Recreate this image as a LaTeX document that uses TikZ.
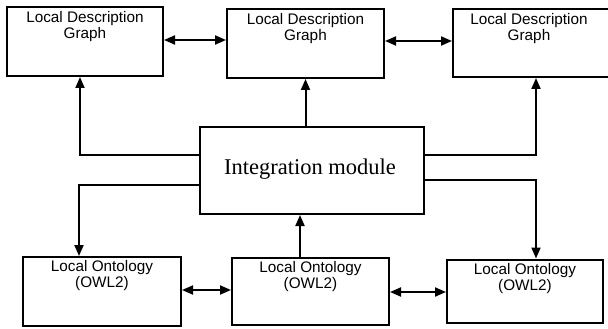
\documentclass[tikz,border=0pt]{standalone}
\usepackage{fontspec}
\setmainfont{Liberation Serif}
\setsansfont{Liberation Sans}
\usetikzlibrary{arrows.meta}
\begin{document}
\begin{tikzpicture}[x=1pt,y=-1pt,
  box/.style={draw,line width=2pt,inner sep=0,minimum width=#1},
  lbl/.style={anchor=north,inner sep=0,align=center,font=\sffamily\fontsize{15.3}{15.8}\selectfont},
  conn/.style={line width=2pt,-{Triangle[length=11pt,width=9pt]}},
  dconn/.style={line width=2pt,{Triangle[length=11pt,width=9pt]}-{Triangle[length=11pt,width=9pt]}}
]
\useasboundingbox[fill=white] (0,0) rectangle (608,329);
% boxes
\node[box=156pt,minimum height=69pt] (TL) at (85,41.5) {};
\node[box=157pt,minimum height=69pt] (TM) at (305.5,43.5) {};
\node[box=156pt,minimum height=68pt] (TR) at (531,43) {};
\node[box=224pt,minimum height=87pt] (IM) at (312,170.5) {};
\node[box=158pt,minimum height=69pt] (BL) at (102,291.5) {};
\node[box=157pt,minimum height=67pt] (BM) at (310.5,291.5) {};
\node[box=156pt,minimum height=63pt] (BR) at (525,291) {};
% labels
\node[lbl] (TLt) at ([yshift=-5pt]TL.north) {Local Description\\Graph};
\node[lbl] (TMt) at ([yshift=-5pt]TM.north) {Local Description\\Graph};
\node[lbl] (TRt) at ([yshift=-5pt,xshift=-2pt]TR.north) {Local Description\\Graph};
\node[anchor=base,inner sep=0,font=\rmfamily\fontsize{22.5}{24}\selectfont] (IMt) at (310,174) {Integration module};
\node[lbl] (BLt) at ([yshift=-4.5pt]BL.north) {Local Ontology\\(OWL2)};
\node[lbl] (BMt) at ([yshift=-4.5pt]BM.north) {Local Ontology\\(OWL2)};
\node[lbl] (BRt) at ([yshift=-4.5pt]BR.north) {Local Ontology\\(OWL2)};
% connectors
\draw[dconn] (TL.east |- 0,40) -- (TM.west |- 0,40);
\draw[dconn] (TM.east |- 0,41) -- (TR.west |- 0,41);
\draw[conn] (IM.west |- 0,155) -| (TL.south -| 80,0);
\draw[conn] (TM.south |- IM.north) -- (TM.south);
\draw[conn] (IM.east |- 0,155) -| (TR.south -| 536,0);
\draw[conn] (IM.west |- 0,185) -| (BL.north -| 79,0);
\draw[conn] (BM.north -| 300,0) -- (IM.south -| 300,0);
\draw[conn] (IM.east |- 0,180) -| (BR.north -| 536,0);
\draw[dconn] (BL.east |- 0,290) -- (BM.west |- 0,290);
\draw[dconn] (BM.east |- 0,292) -- (BR.west |- 0,292);
\end{tikzpicture}
\end{document}
